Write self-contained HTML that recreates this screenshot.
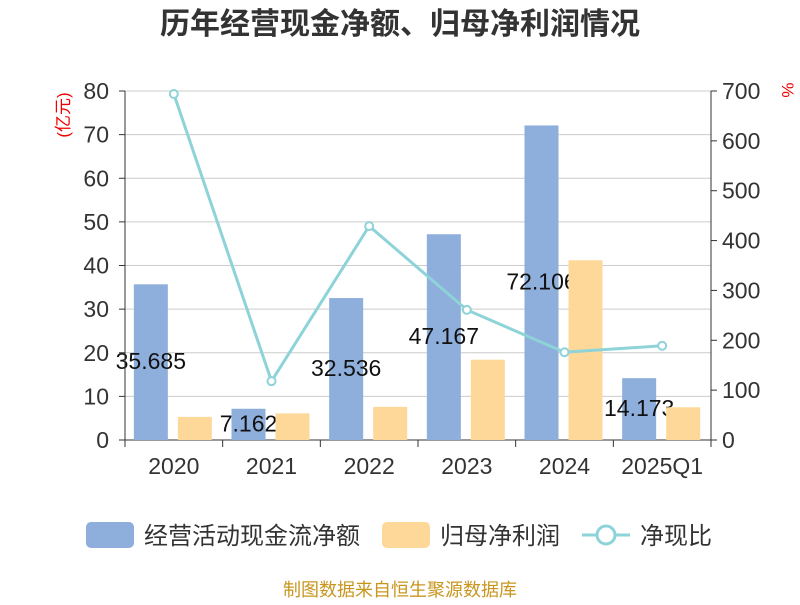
<!DOCTYPE html>
<html><head><meta charset="utf-8"><style>
body{margin:0;background:#fff;}
svg text{font-family:"Liberation Sans","Noto Sans CJK SC",sans-serif;}
</style></head><body>
<svg id="c" width="800" height="600" xmlns="http://www.w3.org/2000/svg">
<text x="400" y="34" text-anchor="middle" font-size="30" font-weight="bold" fill="#333">历年经营现金净额、归母净利润情况</text>
<text x="0" y="0" transform="translate(69,115) rotate(-90)" text-anchor="middle" font-size="17" fill="#e00">(亿元)</text>
<text x="0" y="0" transform="translate(782,90) rotate(90)" text-anchor="middle" font-size="17" fill="#e00">%</text>
<g id="grid"></g><g id="bars"></g><g id="lab"></g><g id="bars2"></g><g id="line"></g><g id="axes"></g>
<g>
<rect x="86" y="522" width="48" height="26" rx="5" fill="#8eaedb"/>
<text x="144" y="544" font-size="24" fill="#333">经营活动现金流净额</text>
<rect x="382" y="522" width="48" height="26" rx="5" fill="#fed898"/>
<text x="440" y="544" font-size="24" fill="#333">归母净利润</text>
<line x1="582" y1="535" x2="630" y2="535" stroke="#8dd3d8" stroke-width="3"/>
<circle cx="606" cy="535" r="9" fill="#fff" stroke="#8dd3d8" stroke-width="3"/>
<text x="640" y="544" font-size="24" fill="#333">净现比</text>
</g>
<text x="400" y="596" text-anchor="middle" font-size="18" fill="#c8961e">制图数据来自恒生聚源数据库</text>
</svg>
<script>
const categories=["2020","2021","2022","2023","2024","2025Q1"];
const cashflow=[35.685,7.162,32.536,47.167,72.106,14.173];
const cashLabels=["35.685","7.162","32.536","47.167","72.106","14.173"];
const profit=[5.3,6.1,7.6,18.4,41.2,7.5];
const ratio=[694,118,429,261,176,189];
const leftTicks=[0,10,20,30,40,50,60,70,80];
const rightTicks=[0,100,200,300,400,500,600,700];
const NS="http://www.w3.org/2000/svg";
const X0=125,X1=711,Y0=440,Y1=91;
const bw=(X1-X0)/categories.length;
const yL=v=>Y0-(v/80)*(Y0-Y1);
const yR=v=>Y0-(v/700)*(Y0-Y1);
const xc=i=>X0+bw*(i+0.5);
function mk(tag,attrs,parent,txt){const e=document.createElementNS(NS,tag);for(const k in attrs)e.setAttribute(k,attrs[k]);if(txt!==undefined)e.textContent=txt;document.getElementById(parent).appendChild(e);return e;}
leftTicks.forEach(t=>{
 const g=mk('line',{x1:X0,x2:X1,y1:yL(t),y2:yL(t),stroke:t===0?'#333':'#ccc','stroke-width':1},'grid');
 
 
 const tx=mk('text',{x:X0-16,y:yL(t)+8,'text-anchor':'end','font-size':23,fill:'#333'},'axes',String(t));
 
 
 const tk=mk('line',{x1:X0-6,x2:X0,y1:yL(t),y2:yL(t),stroke:'#333'},'axes');
 
 
});
rightTicks.forEach(t=>{
 const tx=mk('text',{x:X1+11,y:yR(t)+8,'text-anchor':'start','font-size':23,fill:'#333'},'axes',String(t));
 
 
 const tk=mk('line',{x1:X1,x2:X1+6,y1:yR(t),y2:yR(t),stroke:'#333'},'axes');
 
 
});
let a=mk('line',{x1:X0,x2:X0,y1:Y1,y2:Y0,stroke:'#333'},'axes');


a=mk('line',{x1:X1,x2:X1,y1:Y1,y2:Y0,stroke:'#333'},'axes');


for(let i=0;i<=categories.length;i++){
 const t=mk('line',{x1:X0+bw*i,x2:X0+bw*i,y1:Y0,y2:Y0+7,stroke:'#333'},'axes');
 
 
}
categories.forEach((c,i)=>{
 const t=mk('text',{x:xc(i),y:Y0+34,'text-anchor':'middle','font-size':23,fill:'#333'},'axes',c);
 
 
 const b=mk('rect',{x:xc(i)-40,y:yL(cashflow[i]),width:34,height:Y0-yL(cashflow[i]),fill:'#8eaedb'},'bars');
 
 
 const l=mk('text',{x:xc(i)-23,y:(yL(cashflow[i])+Y0)/2+7,'text-anchor':'middle','font-size':23,fill:'#111'},'lab',cashLabels[i]);
 
 
 const p=mk('rect',{x:xc(i)+4,y:yL(profit[i]),width:34,height:Y0-yL(profit[i]),fill:'#fed898'},'bars2');
 
 
});
const pl=mk('polyline',{points:ratio.map((v,i)=>xc(i)+','+yR(v)).join(' '),fill:'none',stroke:'#8dd3d8','stroke-width':3},'line');


ratio.forEach((v,i)=>{
 const c=mk('circle',{cx:xc(i),cy:yR(v),r:4,fill:'#fff',stroke:'#8dd3d8','stroke-width':2},'line');
 
 
});
</script>
</body></html>
